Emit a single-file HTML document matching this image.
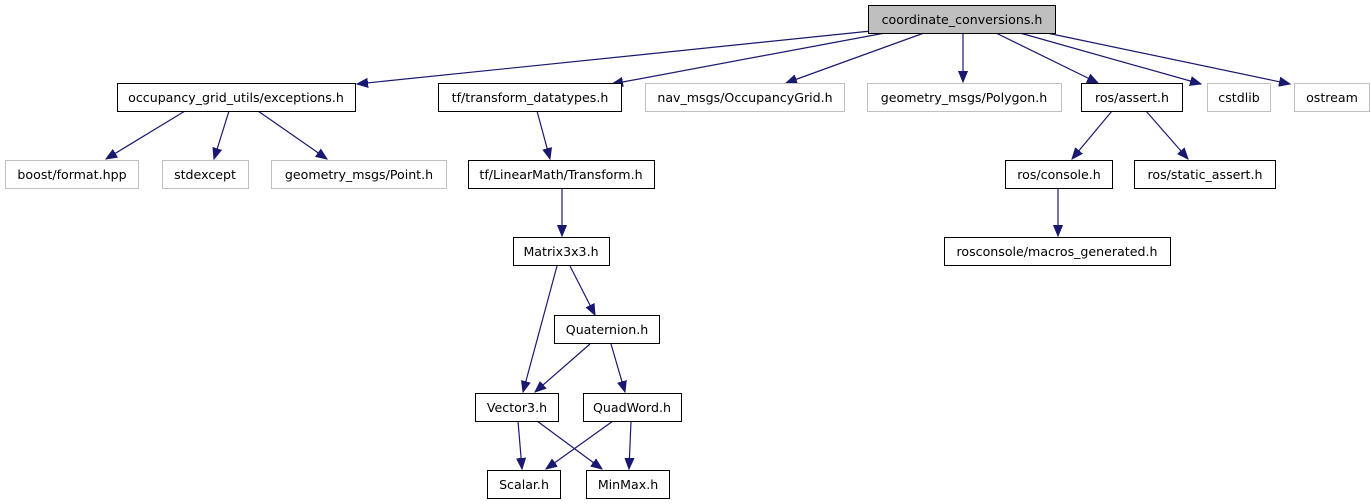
<!DOCTYPE html>
<html><head><meta charset="utf-8"><style>
html,body{margin:0;padding:0;background:#fff;}
svg{display:block;}
text{font-family:"DejaVu Sans","Liberation Sans",sans-serif;font-size:12.6px;fill:#000;text-anchor:middle;}
.b{fill:#fff;stroke:#000;stroke-width:1;}
.g{fill:#fff;stroke:#bfbfbf;stroke-width:1;}
.e{stroke:#191970;stroke-width:1.2;fill:none;marker-end:url(#a);}
</style></head><body>
<svg width="1371" height="504" viewBox="0 0 1371 504" xmlns="http://www.w3.org/2000/svg">
<defs><marker id="a" markerWidth="12" markerHeight="10" refX="11" refY="5" orient="auto" markerUnits="userSpaceOnUse"><path d="M0,0.5 L11,5 L0,9.5 z" fill="#191970" stroke="#191970"/></marker></defs>
<line class="e" x1="871" y1="31" x2="357" y2="84"/>
<line class="e" x1="885" y1="33" x2="612" y2="84"/>
<line class="e" x1="924" y1="33" x2="786" y2="83"/>
<line class="e" x1="963" y1="33" x2="963" y2="82"/>
<line class="e" x1="996" y1="33" x2="1098" y2="83"/>
<line class="e" x1="1020" y1="33" x2="1201" y2="84"/>
<line class="e" x1="1047" y1="33" x2="1290" y2="84"/>
<line class="e" x1="185" y1="111" x2="106" y2="159"/>
<line class="e" x1="229" y1="111" x2="214" y2="159"/>
<line class="e" x1="258" y1="111" x2="327" y2="159"/>
<line class="e" x1="537" y1="111" x2="550" y2="159"/>
<line class="e" x1="1112" y1="111" x2="1072" y2="159"/>
<line class="e" x1="1146" y1="111" x2="1188" y2="159"/>
<line class="e" x1="562" y1="188" x2="562" y2="236"/>
<line class="e" x1="1058" y1="188" x2="1058" y2="236"/>
<line class="e" x1="557" y1="266" x2="523" y2="392"/>
<line class="e" x1="570" y1="266" x2="595" y2="315"/>
<line class="e" x1="590" y1="344" x2="535" y2="392"/>
<line class="e" x1="611" y1="344" x2="625" y2="392"/>
<line class="e" x1="518" y1="421" x2="522" y2="469"/>
<line class="e" x1="537" y1="421" x2="602" y2="469"/>
<line class="e" x1="613" y1="421" x2="546" y2="469"/>
<line class="e" x1="631" y1="421" x2="629" y2="469"/>
<rect x="868.5" y="5.5" width="187" height="28" fill="#bfbfbf" stroke="#000"/>
<text x="962" y="24">coordinate_conversions.h</text>
<rect class="b" x="117.5" y="83.5" width="238" height="28"/><text x="236" y="102">occupancy_grid_utils/exceptions.h</text>
<rect class="b" x="438.5" y="83.5" width="183" height="28"/><text x="530" y="102">tf/transform_datatypes.h</text>
<rect class="g" x="645.5" y="83.5" width="199" height="28"/><text x="745" y="102">nav_msgs/OccupancyGrid.h</text>
<rect class="g" x="867.5" y="83.5" width="194" height="28"/><text x="964" y="102">geometry_msgs/Polygon.h</text>
<rect class="b" x="1081.5" y="83.5" width="101" height="28"/><text x="1132" y="102">ros/assert.h</text>
<rect class="g" x="1207.5" y="83.5" width="63" height="28"/><text x="1239" y="102">cstdlib</text>
<rect class="g" x="1294.5" y="83.5" width="75" height="28"/><text x="1332" y="102">ostream</text>
<rect class="g" x="5.5" y="160.5" width="133" height="28"/><text x="72" y="179">boost/format.hpp</text>
<rect class="g" x="162.5" y="160.5" width="86" height="28"/><text x="205" y="179">stdexcept</text>
<rect class="g" x="271.5" y="160.5" width="175" height="28"/><text x="359" y="179">geometry_msgs/Point.h</text>
<rect class="b" x="468.5" y="160.5" width="186" height="28"/><text x="561" y="179">tf/LinearMath/Transform.h</text>
<rect class="b" x="1005.5" y="160.5" width="107" height="28"/><text x="1059" y="179">ros/console.h</text>
<rect class="b" x="1134.5" y="160.5" width="141" height="28"/><text x="1205" y="179">ros/static_assert.h</text>
<rect class="b" x="944.5" y="237.5" width="226" height="28"/><text x="1057" y="256">rosconsole/macros_generated.h</text>
<rect class="b" x="513.5" y="237.5" width="96" height="28"/><text x="561" y="256">Matrix3x3.h</text>
<rect class="b" x="554.5" y="315.5" width="105" height="28"/><text x="607" y="334">Quaternion.h</text>
<rect class="b" x="475.5" y="393.5" width="83" height="28"/><text x="517" y="412">Vector3.h</text>
<rect class="b" x="583.5" y="393.5" width="98" height="28"/><text x="632" y="412">QuadWord.h</text>
<rect class="b" x="487.5" y="470.5" width="73" height="28"/><text x="524" y="489">Scalar.h</text>
<rect class="b" x="586.5" y="470.5" width="83" height="28"/><text x="628" y="489">MinMax.h</text>
</svg>
</body></html>
